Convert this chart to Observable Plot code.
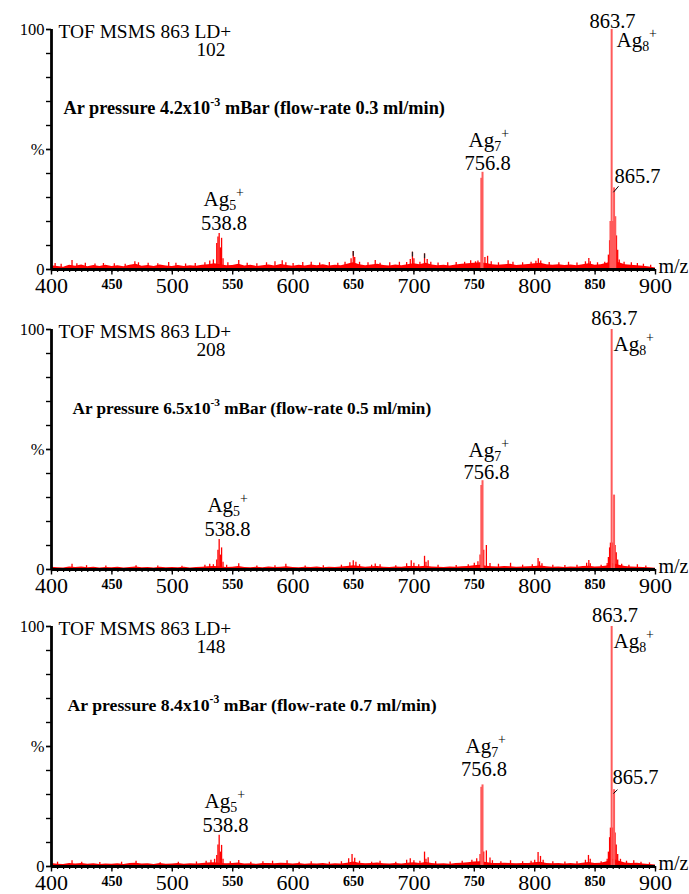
<!DOCTYPE html>
<html><head><meta charset="utf-8">
<script src="https://cdn.jsdelivr.net/npm/d3@7"></script>
<script src="https://cdn.jsdelivr.net/npm/@observablehq/plot@0.6"></script>
<style>body{margin:0;background:#fff} svg{display:block}</style>
</head><body><div id="chart"></div>
<script>
// ---------- tick labels ----------
const xBigLabels = [400, 500, 600, 700, 800, 900];
const xSmallLabels = [450, 550, 650, 750, 850];
const yLabelValues = [0, 50, 100];
const yLabelTexts = ["0", "%", "100"];

// ---------- panel texts ----------
const scanCounts = ["102", "208", "148"];
const pressures = ["4.2", "6.5", "8.4"];
const flowRates = ["0.3", "0.5", "0.7"];

// ---------- baseline noise (% , m/z 400..900 every 5) ----------
const noise1 = [1.6,1.2,0.9,1.8,1.4,1.9,1.1,1.7,1.3,1.8, 1.2,1.6,1.1,1.8,2.2,1.4,1.7,1.2,1.9,1.5, 1.3,1.7,1.2,1.6,1.4,1.8,2.0,2.4,2.0,1.6, 1.7,2.2,1.5,1.8,1.3,1.6,1.9,1.5,2.1,1.7, 1.4,1.8,1.5,1.9,1.6,2.0,1.5,1.8,1.6,2.2, 2.8,2.0,1.6,1.9,2.2,1.7,1.5,1.9,1.6,2.0, 2.4,2.0,2.6,1.9,1.6,1.8,1.5,1.9,2.2,2.4, 2.6,2.8,2.5,2.0,1.8,2.0,2.2,1.7,1.9,2.1, 2.4,2.6,2.0,1.8,2.0,1.7,1.9,1.6,2.0,2.4, 1.8,2.0,2.6,3.5,2.8,2.0,1.8,1.6,1.4,1.0, 0.6];
const noise2 = [0.9,0.7,0.6,1.0,0.8,1.0,0.7,0.9,0.6,0.8, 0.7,0.9,0.6,0.8,1.0,0.7,0.8,0.6,0.9,0.7, 0.8,0.7,0.9,0.6,0.8,0.9,1.1,1.2,1.0,0.8, 0.9,1.2,0.8,0.7,0.9,0.7,1.0,0.8,0.9,1.1, 0.8,0.7,0.9,0.8,1.0,0.7,0.9,0.8,1.0,1.3, 1.6,1.2,0.9,1.1,1.3,0.9,0.8,1.0,0.9,1.2, 1.3,1.1,1.4,1.0,0.9,0.8,1.0,0.9,1.1,1.3, 1.6,1.8,1.4,1.1,1.0,1.2,1.1,0.9,1.0,1.1, 1.3,1.5,1.1,0.9,1.0,0.8,1.0,0.9,1.2,1.4, 1.0,1.1,1.5,2.5,1.8,1.2,1.0,0.9,0.8,0.7, 0.5];
const noise3 = [1.2,0.9,0.8,1.3,1.0,1.2,0.9,1.1,0.8,1.0, 0.9,1.1,0.8,1.2,1.4,1.0,1.1,0.8,1.2,0.9, 1.0,1.2,0.9,1.1,1.0,1.3,1.5,1.6,1.3,1.1, 1.2,1.5,1.0,1.1,0.9,1.2,1.3,1.1,1.4,1.2, 1.0,1.2,0.9,1.1,1.0,1.2,0.9,1.1,1.0,1.4, 1.9,1.4,1.1,1.2,1.5,1.1,1.0,1.2,1.0,1.4, 1.6,1.3,1.7,1.2,1.0,1.1,0.9,1.2,1.4,1.6, 1.9,2.0,1.7,1.3,1.2,1.4,1.3,1.1,1.2,1.3, 1.6,1.8,1.3,1.1,1.2,1.0,1.2,1.0,1.4,1.7, 1.2,1.4,2.0,3.0,2.2,1.5,1.3,1.4,1.0,0.8, 0.6];

// ---------- peaks (m/z, relative intensity %) ----------
const peakMz1 = [403,408,417,421,428,436,443,452,461,469,472,480,488,497,503,511,519,527,531,534,536.8,537.8,538.8,539.8,540.8,542,546,555,562,570,578,585,591,594,600,608,615,622,630,637,643,648,649.8,651,655,662,668,672,680,688,694,697,698.8,700,705,708.8,711,714,720,728,735,742,747,751,753,755.8,756.8,758.8,761,764,770,778,782,790,797,801,803,805,812,820,828,835,842,844.8,846,852,858,861,862,862.7,863.7,864.7,865.7,866.2,866.7,867.7,868.7,870,874,880,885,890,896];
const peakPct1 = [2.5,2.2,3.8,2.4,2.6,2.3,2.5,2.4,2.2,3.2,2.8,2.6,2.4,2.9,2.6,2.3,2.5,2.8,3.5,4.0,10.8,13.5,15,9,13,4.5,2.8,3.8,2.6,2.4,2.8,3.2,3.6,2.8,2.5,2.9,3.0,2.7,2.9,2.6,3.0,4.5,7.5,5,3.0,2.8,3.8,2.6,2.8,3.0,2.9,4.2,7.2,4.5,3.0,6.5,4.2,3.0,2.7,2.8,2.9,3.0,3.6,3.2,3.5,38,40.5,5,5.5,3.2,2.8,3.6,3.0,2.8,3.0,3.4,4.5,3.5,2.9,2.8,3.0,2.7,3.2,4.6,3.2,2.8,3.0,6,12,20,100,20,34,18,22,14,8,4,3,2.8,2.5,2.2,1.8];
const tipMz1 = [649.8, 698.8, 708.8];
const tipPct1 = [7.5, 7.2, 6.5];

const peakMz2 = [417,429,445,470,488,508,527,531,534,536.8,537.8,538.8,539.8,540.8,542,545,555,570,585,594,610,625,640,647,649.8,652,655,665,668,672,685,694,697.8,700,704,708.8,710,711.8,720,735,745,750,753,754.8,755.8,756.8,757.8,760,763,770,780,790,798,802.8,804,806,815,825,835,843,844.8,846,855,860,861,862,862.7,863.7,864.7,865.7,866.5,867.5,868.7,872,878,885,892];
const peakPct2 = [2.2,1.6,1.5,1.6,1.5,1.4,1.8,2.2,2.0,4,8,12.5,6,9,3,1.8,2.4,1.5,1.6,2.2,1.5,1.6,1.8,2.8,3.6,3.0,2.0,1.8,2.3,2.0,1.6,2.4,3.6,2.6,2.0,5.5,3,3.6,1.8,1.7,2,2.6,3.2,6,35,37,8,10,2.5,2.2,2.6,1.8,2.0,4.6,3.2,2.4,1.8,1.7,1.8,2.6,3.8,2.4,1.8,2.5,5,9,11,100,11,31,10,7,4,2.2,1.8,2.0,1.5];

const peakMz3 = [405,417,425,440,458,470,490,505,520,528,532,535,536.8,537.8,538.8,539.8,540.8,542,548,555,565,575,583,595,605,615,630,640,646,648.8,651,655,665,672,685,694,697,700,705,708.8,710,711.8,718,730,740,748,752,754.8,755.8,756.8,757.8,760,763,765,772,780,790,797,800,802.8,804.8,807,815,825,835,842,844.5,846,855,860,861,862,862.7,863.7,864.7,865.7,866.5,867.5,868.7,871,876,882,888,895];
const peakPct3 = [1.8,2.4,1.8,1.7,1.8,2.2,1.6,1.8,1.9,2.2,2.6,3,4.6,9,13,6,8.8,3,2,2.5,1.8,2,2.2,2.4,1.8,2.0,1.8,2.0,3.2,5,3.4,2.2,1.8,2.2,1.8,2.6,3.2,2.4,2.2,6,3,3.6,2,1.9,2.2,2.6,3.2,5,33,34,6,6.5,3.5,2.4,2,2.4,2,2.2,2.6,5.8,4.2,2.6,2,1.9,2,2.6,4.6,3,2,3,6,12,16,100,16,32,14,9,5,3,2.2,2.4,1.8,1.5];

// ---------- annotation anchors (data units: m/z, %) ----------
const ann1 = {mz538: [542.8, 16.5], ag5: [525.8, 26.6], mz756: [761, 41.3], ag7: [745.2, 51.0], mz863: [864.4, 100.8], ag8: [867.7, 92.6], mz865: [866, 36], leader: [865.2, 32.2, 869.4, 34.7]};
const ann2 = {mz538: [545.7, 13.8], ag5: [529.1, 24.0], mz756: [760.1, 37.7], ag7: [745.2, 47.0], mz863: [866, 101.7], ag8: [865.2, 91.2], mz865: null, leader: null};
const ann3 = {mz538: [544, 14.2], ag5: [526.7, 24.3], mz756: [758, 37.9], ag7: [742.7, 47.2], mz863: [866.5, 102], ag8: [865.2, 91.2], mz865: [864.4, 34.2], leader: [865.2, 30.4, 868.5, 32]};

const panels = [
  {noise: noise1, mz: peakMz1, pct: peakPct1, tipMz: tipMz1, tipPct: tipPct1, ann: ann1, count: scanCounts[0], p: pressures[0], f: flowRates[0], arDx: 12, arSize: 18.3, height: 300},
  {noise: noise2, mz: peakMz2, pct: peakPct2, tipMz: [], tipPct: [], ann: ann2, count: scanCounts[1], p: pressures[1], f: flowRates[1], arDx: 21, arSize: 17.2, height: 297},
  {noise: noise3, mz: peakMz3, pct: peakPct3, tipMz: [], tipPct: [], ann: ann3, count: scanCounts[2], p: pressures[2], f: flowRates[2], arDx: 16, arSize: 17.7, height: 297}
];

const FONT = "'Liberation Serif', 'Times New Roman', serif";
const RED = "#ff0000", PINK = "#ff5a5a";
const yLabelMap = new Map(yLabelValues.map((v, i) => [v, yLabelTexts[i]]));

function makePanel(P) {
  const noise = P.noise.map((v, i) => ({mz: 400 + 5 * i, pct: v}));
  const peaks = P.mz.map((m, i) => ({mz: m, pct: P.pct[i]}));
  const small = peaks.filter(d => d.pct < 20);
  const tall = peaks.filter(d => d.pct >= 20);
  const tips = P.tipMz.map((m, i) => ({mz: m, pct: P.tipPct[i]}));
  const A = P.ann;
  const pt = (a, text) => ({mz: a[0], pct: a[1], text});
  const numLabels = [pt(A.mz538, "538.8"), pt(A.mz756, "756.8"), pt(A.mz863, "863.7")];
  const ionLabels = [pt(A.ag5, "Ag{_5}{^+}"), pt(A.ag7, "Ag{_7}{^+}"), pt(A.ag8, "Ag{_8}{^+}")];
  const startLabels = A.mz865 ? [pt(A.mz865, "865.7")] : [];
  const leaders = A.leader ? [{x1: A.leader[0], y1: A.leader[1], x2: A.leader[2], y2: A.leader[3]}] : [];

  return Plot.plot({
    width: 689, height: P.height,
    marginTop: 29, marginBottom: P.height - 269, marginLeft: 51, marginRight: 34,
    x: {domain: [400, 900], axis: null, label: null},
    y: {domain: [0, 100], axis: null, label: null},
    style: {fontFamily: FONT, fontSize: "14px", color: "black", background: "white", overflow: "visible"},
    marks: [
      Plot.areaY(noise, {x: "mz", y: "pct", fill: RED, curve: "linear"}),
      Plot.ruleX(small, {x: "mz", y1: 0, y2: "pct", stroke: RED, strokeWidth: 1.3}),
      Plot.ruleX(tall, {x: "mz", y1: 0, y2: "pct", stroke: PINK, strokeWidth: 2}),
      Plot.ruleX(tips, {x: "mz", y1: d => d.pct - 2, y2: "pct", stroke: "#222", strokeWidth: 1.2}),
      // axes
      Plot.axisX({ticks: d3.range(400, 901, 5), tickSize: 3, tickFormat: () => "", strokeWidth: 1.2, label: null}),
      Plot.axisX({ticks: d3.range(400, 901, 50), tickSize: 5.5, tickFormat: () => "", strokeWidth: 1.4, label: null}),
      Plot.axisX({ticks: xBigLabels, tickSize: 0, tickPadding: 8, fontSize: 22, label: null}),
      Plot.axisX({ticks: xSmallLabels, tickSize: 0, tickPadding: 10, fontSize: 14, fontWeight: "bold", label: null}),
      Plot.axisY({ticks: d3.range(0, 101, 10), tickSize: 5, tickFormat: () => "", strokeWidth: 1.4, label: null}),
      Plot.axisY({ticks: yLabelValues, tickSize: 5, tickPadding: 2, strokeWidth: 1.4, tickFormat: d => yLabelMap.get(d), fontSize: 16.5, label: null}),
      Plot.ruleX([400], {y1: 0, y2: 100, stroke: "black", strokeWidth: 2.8}),
      Plot.ruleY([0], {x1: 400, x2: 900, stroke: "black", strokeWidth: 2.8}),
      // annotations
      Plot.text(numLabels, {x: "mz", y: "pct", text: "text", textAnchor: "middle", lineAnchor: "bottom", fontSize: 20.5}),
      Plot.text(ionLabels, {x: "mz", y: "pct", text: "text", textAnchor: "start", lineAnchor: "bottom", fontSize: 21}),
      Plot.text(startLabels, {x: "mz", y: "pct", text: "text", textAnchor: "start", lineAnchor: "bottom", fontSize: 20.5}),
      Plot.link(leaders, {x1: "x1", y1: "y1", x2: "x2", y2: "y2", stroke: "black", strokeWidth: 1}),
      // panel texts
      Plot.text(["TOF MSMS 863 LD+"], {frameAnchor: "top-left", dx: 7, dy: 8, textAnchor: "start", lineAnchor: "bottom", fontSize: 19.4}),
      Plot.text([P.count], {frameAnchor: "top-left", dx: 174, dy: 26, textAnchor: "end", lineAnchor: "bottom", fontSize: 19.4}),
      Plot.text([`Ar pressure ${P.p}x10{^-3} mBar (flow-rate ${P.f} ml/min)`], {frameAnchor: "top-left", dx: P.arDx, dy: 84, textAnchor: "start", lineAnchor: "bottom", fontSize: P.arSize, fontWeight: "bold"}),
      Plot.text(["m/z"], {frameAnchor: "bottom-right", dx: 3, dy: 3, textAnchor: "start", lineAnchor: "bottom", fontSize: 20})
    ]
  });
}

function richify(svg) {
  const NS = "http://www.w3.org/2000/svg";
  svg.querySelectorAll("text").forEach(t => {
    const s = t.textContent;
    if (!/\{[_^]/.test(s)) return;
    const fs = parseFloat(getComputedStyle(t).fontSize) || 16;
    while (t.firstChild) t.removeChild(t.firstChild);
    const re = /\{([_^])([^}]*)\}|([^{]+)/g;
    let m, offset = 0;
    while ((m = re.exec(s))) {
      const ts = document.createElementNS(NS, "tspan");
      let target;
      if (m[3] !== undefined) { ts.textContent = m[3]; target = 0; }
      else {
        ts.textContent = m[2];
        ts.setAttribute("font-size", (fs * 0.66).toFixed(1));
        target = m[1] === "^" ? -0.42 * fs : 0.2 * fs;
      }
      const dy = target - offset;
      if (dy !== 0) ts.setAttribute("dy", dy.toFixed(2));
      offset = target;
      t.appendChild(ts);
    }
  });
}

const root = document.getElementById("chart");
panels.forEach(P => {
  const svg = makePanel(P);
  root.appendChild(svg);
  richify(svg);
});
</script>
</body></html>
